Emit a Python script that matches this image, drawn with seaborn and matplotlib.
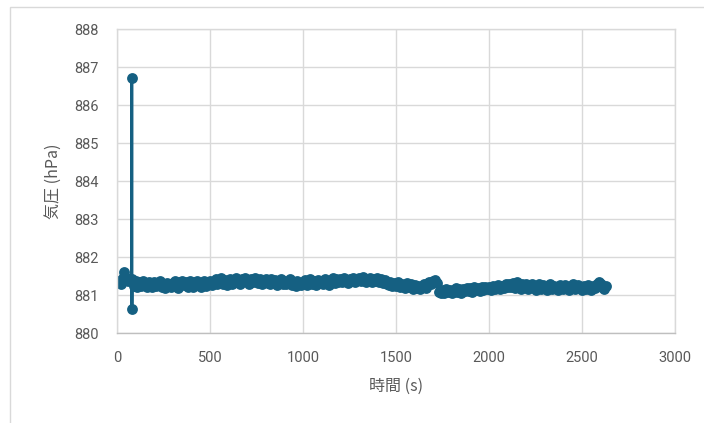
import numpy as np
import pandas as pd
import matplotlib
matplotlib.use("Agg")
import matplotlib.pyplot as plt
from matplotlib.patches import Rectangle
import seaborn as sns

# Barometer log: readings every 10 s, with extra readings around the glitch near 80 s
time_s = [0, 10, 20, 30, 40, 50, 60, 70, 78, 79, 80, 81] + list(range(90, 2640, 10))
pressure_hpa = [
    881.38, 881.33, 881.30, 881.45, 881.60, 881.44, 881.36, 881.41, 881.42, 886.70, 880.62, 881.36,
    881.24,
    881.36, 881.22, 881.33, 881.25, 881.37, 881.29, 881.21, 881.34, 881.27, 881.20,
    881.33, 881.23, 881.30, 881.37, 881.21, 881.28, 881.18, 881.32, 881.25, 881.20,
    881.31, 881.37, 881.24, 881.19, 881.33, 881.38, 881.26, 881.34, 881.22, 881.36,
    881.29, 881.21, 881.35, 881.38, 881.26, 881.20, 881.33, 881.37, 881.24, 881.34,
    881.38, 881.27, 881.33, 881.41, 881.29, 881.36, 881.44, 881.30, 881.39, 881.27,
    881.35, 881.42, 881.29, 881.37, 881.45, 881.33, 881.28, 881.41, 881.36, 881.44,
    881.37, 881.30, 881.43, 881.35, 881.46, 881.38, 881.31, 881.42, 881.29, 881.37,
    881.43, 881.32, 881.28, 881.41, 881.33, 881.39, 881.27, 881.36, 881.42, 881.30,
    881.38, 881.28, 881.35, 881.42, 881.27, 881.34, 881.25, 881.37, 881.31, 881.26,
    881.33, 881.39, 881.27, 881.35, 881.42, 881.29, 881.36, 881.27, 881.40, 881.33,
    881.38, 881.30, 881.42, 881.34, 881.27, 881.39, 881.44, 881.32, 881.41, 881.34,
    881.42, 881.35, 881.45, 881.37, 881.31, 881.43, 881.38, 881.46, 881.34, 881.41,
    881.44, 881.36, 881.47, 881.39, 881.33, 881.42, 881.45, 881.35, 881.43, 881.37,
    881.44, 881.34, 881.41, 881.32, 881.39, 881.29, 881.26, 881.35, 881.24, 881.31,
    881.25, 881.33, 881.20, 881.30, 881.23, 881.18, 881.31, 881.21, 881.29, 881.17,
    881.27, 881.18, 881.25, 881.15, 881.23, 881.29, 881.19, 881.31, 881.35, 881.30,
    881.36, 881.40, 881.31, 881.08, 881.04, 881.12, 881.06, 881.16, 881.08, 881.14,
    881.05, 881.13, 881.18, 881.08, 881.15, 881.06, 881.17, 881.10, 881.19, 881.11,
    881.18, 881.09, 881.20, 881.12, 881.19, 881.10, 881.22, 881.13, 881.20, 881.15,
    881.21, 881.12, 881.24, 881.15, 881.22, 881.27, 881.16, 881.25, 881.18, 881.28,
    881.20, 881.29, 881.21, 881.31, 881.19, 881.33, 881.24, 881.17, 881.29, 881.20,
    881.28, 881.16, 881.25, 881.30, 881.18, 881.13, 881.24, 881.29, 881.16, 881.26,
    881.20, 881.13, 881.24, 881.28, 881.16, 881.25, 881.18, 881.14, 881.27, 881.20,
    881.15, 881.26, 881.19, 881.13, 881.24, 881.28, 881.16, 881.22, 881.27, 881.18,
    881.14, 881.24, 881.17, 881.27, 881.20, 881.13, 881.25, 881.19, 881.29, 881.35,
    881.28, 881.20, 881.16, 881.24,
]

x_ticks = [0, 500, 1000, 1500, 2000, 2500, 3000]
y_ticks = [880, 881, 882, 883, 884, 885, 886, 887, 888]
x_label = "時間 (s)"
y_label = "気圧 (hPa)"

line_color = "#156082"
grid_color = "#D9D9D9"
text_color = "#595959"

sns.set_theme(style="whitegrid")
plt.rcParams["font.family"] = ["Roboto", "DejaVu Sans"]

df = pd.DataFrame({"time": time_s, "pressure": pressure_hpa})

fig = plt.figure(figsize=(7.04, 4.23), dpi=100)
ax = fig.add_axes([117 / 704, 90 / 423, 558 / 704, 304 / 423])

sns.lineplot(data=df, x="time", y="pressure", ax=ax, estimator=None,
             color=line_color, linewidth=2.2, marker="o", markersize=7.8,
             markeredgewidth=0, sort=False)

ax.set_xlim(0, 3000)
ax.set_ylim(880, 888)
ax.set_xticks(x_ticks)
ax.set_yticks(y_ticks)
ax.grid(True, color=grid_color, linewidth=1)
ax.tick_params(axis="both", length=0, labelsize=10.5, labelcolor=text_color)
ax.tick_params(axis="x", pad=13)
ax.tick_params(axis="y", pad=13)
for side, sp in ax.spines.items():
    sp.set_color(grid_color)
    sp.set_linewidth(1)
ax.spines["bottom"].set_color("#BFBFBF")

ax.set_xlabel(x_label, fontsize=11.5, color=text_color,
              family=["Noto Sans CJK JP", "DejaVu Sans"], labelpad=9)
ax.set_ylabel(y_label, fontsize=11.5, color=text_color,
              family=["Noto Sans CJK JP", "DejaVu Sans"], labelpad=9)

# Outer chart frame
fig.patches.append(Rectangle((10 / 704, -0.2), 1.2, 1 - 7 / 423 + 0.2,
                             transform=fig.transFigure, fill=False,
                             edgecolor=grid_color, linewidth=1))

fig.savefig("out.png", dpi=100)
